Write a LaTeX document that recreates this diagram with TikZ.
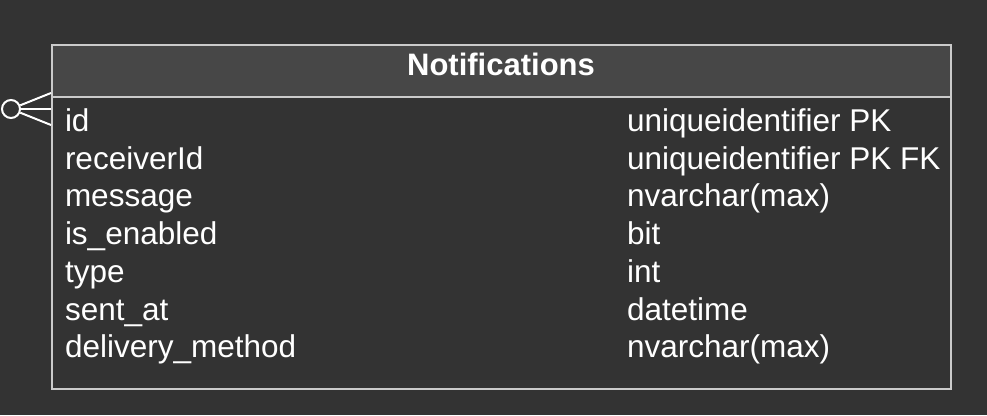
\documentclass[tikz,border=0pt]{standalone}
\usepackage{fontspec}
\setmainfont{Liberation Sans}
\usepackage{xcolor}
\usetikzlibrary{positioning}
\definecolor{bgdark}{HTML}{333333}
\definecolor{hdrgray}{HTML}{474747}
\definecolor{edgegray}{HTML}{CBCBCB}

\begin{document}
\begin{tikzpicture}[x=1pt, y=-1pt, line width=2pt,
    field/.style={inner sep=0pt, outer sep=0pt, text=white, text height=24pt,
      text depth=7pt, font=\fontsize{31.5}{37}\selectfont},
    row/.style={field, below=6.7pt of #1.south west, anchor=north west}]
    % fondo scuro
    \fill[bgdark] (0,0) rectangle (987,415);

    % Tabella
    \node[draw=edgegray, minimum width=899pt, minimum height=344pt, inner sep=0pt,
      anchor=north west] (tbl) at (51,44) {};  % corpo della tabella
    \node[draw=edgegray, fill=hdrgray, minimum width=899pt, minimum height=52pt,
      inner sep=0pt, anchor=north west] (hdr) at (51,44) {};  % intestazione
    \node[text=white, font=\bfseries\fontsize{31}{37}\selectfont, anchor=base]
      (title) at (501,75) {Notifications};

    % colonne: nomi
    \node[field, anchor=base west] (id) at (65,131.5) {id};
    \node[row=id] (receiver) {receiverId};
    \node[row=receiver] (message) {message};
    \node[row=message] (enabled) {is\_enabled};
    \node[row=enabled] (type) {type};
    \node[row=type] (sent) {sent\_at};
    \node[row=sent] (delivery) {delivery\_method};

    % colonne: tipi
    \node[field, anchor=base west] (id t) at (627,131.5) {uniqueidentifier PK};
    \node[row=id t] (receiver t) {uniqueidentifier PK FK};
    \node[row=receiver t] (message t) {nvarchar(max)};
    \node[row=message t] (enabled t) {bit};
    \node[row=enabled t] (type t) {int};
    \node[row=type t] (sent t) {datetime};
    \node[row=sent t] (delivery t) {nvarchar(max)};

    % zero-or-many (crow's foot)
    \coordinate (cf top) at ([yshift=-49pt]tbl.north west);
    \coordinate (cf mid) at ([yshift=-65pt]tbl.north west);
    \coordinate (cf bot) at ([yshift=-81pt]tbl.north west);
    \node[circle, draw=white, fill=bgdark, minimum size=18pt, inner sep=0pt,
      left=30pt of cf mid] (zero) {};
    \draw[white] (zero) -- (cf top);
    \draw[white] (zero) -- (cf mid);
    \draw[white] (zero) -- (cf bot);
  \end{tikzpicture}
\end{document}
